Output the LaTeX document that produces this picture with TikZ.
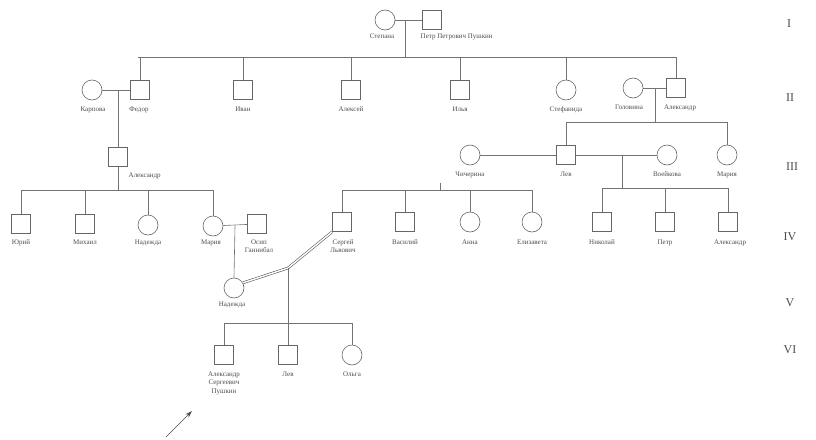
\documentclass[tikz,border=0pt]{standalone}
\usepackage{fontspec}
\setmainfont{Liberation Serif}
\usetikzlibrary{arrows.meta,calc}
\begin{document}
\begin{tikzpicture}[x=1pt,y=-1pt,
  m/.style={draw=black!60, line width=0.6pt, rectangle, minimum size=19pt, inner sep=0pt},
  f/.style={draw=black!60, line width=0.6pt, circle, minimum size=20pt, inner sep=0pt},
  lbl/.style={font=\fontsize{7}{8.5}\selectfont, text=black!70, align=center, inner sep=0.5pt, anchor=north},
  gen/.style={font=\fontsize{12}{14}\selectfont, text=black!70},
  ln/.style={draw=black!55, line width=0.6pt},
  dbl/.style={draw=black!65, double=white, double distance=1.4pt, line width=0.6pt}]
\useasboundingbox (0,0) rectangle (816,439);

% generation I
\node[f] (i1) at (385,20) {};
\node[m] (i2) at (432,20) {};
\node[lbl] (li1) at (382,33) {Степана};
\node[lbl, anchor=north west] (li2) at (420,33) {Петр Петрович Пушкин};
\coordinate (mi) at (405,20);
\coordinate (sI) at (405,57);
\draw[ln] (i1) -- (i2);
\draw[ln] (mi) -- (sI);
\draw[ln] (138,57) coordinate (sIa) -- (676,57) coordinate (sIb);

% generation II
\node[f] (kar) at (92,90) {};
\node[m] (fed) at (140,90) {};
\node[m] (ivan) at (243,90) {};
\node[m] (alx) at (351,90) {};
\node[m] (ilya) at (460,90) {};
\node[f] (stef) at (566,90) {};
\node[f] (gol) at (633,88) {};
\node[m] (aleks) at (676,88) {};
\node[lbl] (lkar) at (93,106) {Карпова};
\node[lbl] (lfed) at (139,106) {Федор};
\node[lbl] (livan) at (243,106) {Иван};
\node[lbl] (lalx) at (351,106) {Алексей};
\node[lbl] (lilya) at (460,106) {Илья};
\node[lbl] (lstef) at (566,106) {Стефанида};
\node[lbl] (lgol) at (629,104) {Головина};
\node[lbl] (laleks) at (680,104) {Александр};
\foreach \n in {fed,ivan,alx,ilya,stef,aleks}{\draw[ln] (\n.north) -- (\n.north |- sIa);}
\draw[ln] (kar) -- (fed);
\draw[ln] (gol) -- (aleks);
\coordinate (mgol) at (655,88);
\coordinate (sII) at (655,122);
\draw[ln] (mgol) -- (sII);

% generation III
\node[m] (alexl) at (118,157) {};
\node[f] (chich) at (470,155) {};
\node[m] (lev) at (566,155) {};
\node[f] (voei) at (667,155) {};
\node[f] (mar3) at (727,155) {};
\node[lbl, anchor=north west] (lalexl) at (128,172) {Александр};
\node[lbl] (lchich) at (470,171) {Чичерина};
\node[lbl] (llev) at (566,171) {Лев};
\node[lbl] (lvoei) at (667,171) {Воейкова};
\node[lbl] (lmar3) at (727,171) {Мария};
\coordinate (mfed) at (118,90);
\draw[ln] (mfed) -- (alexl.north);
\draw[ln] (lev.north |- sII) -- (mar3.north |- sII);
\draw[ln] (lev.north) -- (lev.north |- sII);
\draw[ln] (mar3.north) -- (mar3.north |- sII);
\draw[ln] (chich) -- (lev);
\draw[ln] (lev) -- (voei);

% generation IV
\node[m] (yur) at (21,224) {};
\node[m] (mix) at (85,224) {};
\node[f] (nad4) at (148,225) {};
\node[f] (mar4) at (213,226) {};
\node[m] (osip) at (257,224) {};
\node[m] (serg) at (342,222) {};
\node[m] (vas) at (405,222) {};
\node[f] (anna) at (470,222) {};
\node[f] (eliz) at (532,222) {};
\node[m] (nik) at (602,222) {};
\node[m] (petr) at (665,222) {};
\node[m] (alex4) at (728,222) {};
\node[lbl] (lyur) at (21,239) {Юрий};
\node[lbl] (lmix) at (85,239) {Михаил};
\node[lbl] (lnad4) at (148,239) {Надежда};
\node[lbl] (lmar4) at (211,239) {Мария};
\node[lbl] (losip) at (259,239) {Осип\\Ганнибал};
\node[lbl] (lserg) at (343,239) {Сергей\\Львович};
\node[lbl] (lvas) at (405,239) {Василий};
\node[lbl] (lanna) at (470,239) {Анна};
\node[lbl] (leliz) at (532,239) {Елизавета};
\node[lbl] (lnik) at (602,239) {Николай};
\node[lbl] (lpetr) at (665,239) {Петр};
\node[lbl] (lalex4) at (730,239) {Александр};
% Alexander's children
\coordinate (sIVa) at (21,190);
\draw[ln] (alexl.south) -- (alexl.south |- sIVa);
\draw[ln] (yur.north |- sIVa) -- (mar4.north |- sIVa);
\foreach \n in {yur,mix,nad4,mar4}{\draw[ln] (\n.north) -- (\n.north |- sIVa);}
% Lev + Chicherina children
\coordinate (sIVb) at (342,190);
\coordinate (dch) at (440,183);
\draw[ln] (dch) -- (dch |- sIVb);
\draw[ln] (serg.north |- sIVb) -- (eliz.north |- sIVb);
\foreach \n in {serg,vas,anna,eliz}{\draw[ln] (\n.north) -- (\n.north |- sIVb);}
% Lev + Voeikova children
\coordinate (mvoe) at (622,155);
\coordinate (sIVc) at (622,188);
\draw[ln] (mvoe) -- (sIVc);
\draw[ln] (nik.north |- sIVc) -- (alex4.north |- sIVc);
\foreach \n in {nik,petr,alex4}{\draw[ln] (\n.north) -- (\n.north |- sIVc);}
% Maria + Osip
\draw[ln] (mar4) -- (osip);

% generation V
\node[f] (nad5) at (234,288) {};
\node[lbl] (lnad5) at (232,301) {Надежда};
\coordinate (mos) at (235,226);
\draw[ln] (mos) -- (nad5.north);
\coordinate (jn) at (288,268);
\draw[dbl] (nad5.30) -- (jn) -- (serg.south west);

% generation VI
\node[m] (ass) at (224,355) {};
\node[m] (lev6) at (288,355) {};
\node[f] (olga) at (352,355) {};
\node[lbl] (lass) at (224,371) {Александр\\Сергеевич\\Пушкин};
\node[lbl] (llev6) at (288,371) {Лев};
\node[lbl] (lolga) at (352,371) {Ольга};
\coordinate (sVI) at (288,323);
\draw[ln] (jn) -- (sVI);
\draw[ln] (ass.north |- sVI) -- (olga.north |- sVI);
\foreach \n in {ass,lev6,olga}{\draw[ln] (\n.north) -- (\n.north |- sVI);}

% proband arrow
\coordinate (atail) at (166,437);
\coordinate (ahead) at (192,411);
\draw[draw=black!70, line width=0.6pt, -{Stealth[length=7pt,width=4.5pt]}] (atail) -- (ahead);

% generation numbers
\node[gen] (g1) at (789,24) {I};
\node[gen] (g2) at (790,98) {II};
\node[gen] (g3) at (792,167) {III};
\node[gen] (g4) at (790,237) {IV};
\node[gen] (g5) at (790,303) {V};
\node[gen] (g6) at (790,350) {VI};
\end{tikzpicture}
\end{document}
